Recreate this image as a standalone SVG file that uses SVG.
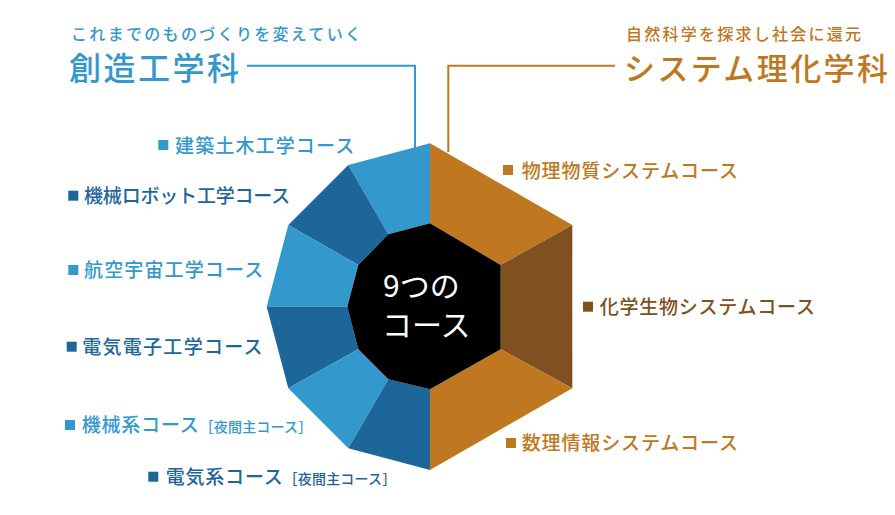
<svg xmlns="http://www.w3.org/2000/svg" width="895" height="515" viewBox="0 0 895 515">
<style>
text{font-family:"Noto Sans CJK JP","Noto Sans",sans-serif;}
.lb{fill:#3399cc}.db{fill:#1d6699}.or{fill:#c07820}.br{fill:#7f5020}
.lbl{font-size:19px;letter-spacing:0.8px;font-weight:500}
.sm{font-size:14px;letter-spacing:0.2px}
.conn{fill:none;stroke-width:2}
</style>
<rect width="895" height="515" fill="#ffffff"/>
<g id="connectors">
<polyline class="conn" stroke="#3399cc" points="247,65.7 415,65.7 415,148"/>
<polyline class="conn" stroke="#c07820" points="615,65.7 448.3,65.7 448.3,152"/>
</g>
<g id="hex">
<polygon class="lb" points="430,143.3 348.3,165 388.3,234.3 430,223.3"/>
<polygon class="db" points="348.3,165 288.3,225 358.3,265 388.3,234.3"/>
<polygon class="lb" points="288.3,225 266.7,306.7 347.3,306.7 358.3,265"/>
<polygon class="db" points="266.7,306.7 288.3,388.3 358.3,349.3 347.3,306.7"/>
<polygon class="lb" points="288.3,388.3 348.3,448.3 388.3,379.3 358.3,349.3"/>
<polygon class="db" points="348.3,448.3 430,470 430,389.3 388.3,379.3"/>
<polygon class="or" points="430,143.3 572.3,225 500.7,265 430,223.3"/>
<polygon class="br" points="572.3,225 572.3,388.3 500.7,349.3 500.7,265"/>
<polygon class="or" points="572.3,388.3 430,470 430,389.3 500.7,349.3"/>
<polygon fill="#000000" points="430,223.3 500.7,265 500.7,349.3 430,389.3 388.3,379.3 358.3,349.3 347.3,306.7 358.3,265 388.3,234.3"/>
</g>
<g id="center">
<text fill="#ffffff" font-size="30"><tspan x="383" y="297">9つの</tspan><tspan x="382" y="336">コース</tspan></text>
</g>
<g id="dept-sozo">
<text class="lb" x="71" y="40" font-size="16" font-weight="500" textLength="290">これまでのものづくりを変えていく</text>
<text class="lb" x="69" y="80" font-size="32" font-weight="500" textLength="170">創造工学科</text>
</g>
<g id="dept-system">
<text class="or" x="626" y="40" font-size="16" font-weight="500" textLength="235">自然科学を探求し社会に還元</text>
<text class="or" x="624" y="80" font-size="31" font-weight="500" textLength="264">システム理化学科</text>
</g>
<g id="c1"><rect class="lb" x="158.3" y="140" width="10" height="10"/><text class="lb lbl" x="175" y="152.5" textLength="180">建築土木工学コース</text></g>
<g id="c2"><rect class="db" x="68.3" y="190.7" width="10" height="10"/><text class="db lbl" x="84" y="202.5" textLength="207">機械ロボット工学コース</text></g>
<g id="c3"><rect class="lb" x="68.3" y="265" width="10" height="10"/><text class="lb lbl" x="84" y="277" textLength="180">航空宇宙工学コース</text></g>
<g id="c4"><rect class="db" x="66.7" y="341.7" width="10" height="10"/><text class="db lbl" x="82.3" y="353.5" textLength="181">電気電子工学コース</text></g>
<g id="c5"><rect class="lb" x="65" y="420" width="10" height="10"/><text class="lb lbl" x="81.7" y="432">機械系コース<tspan class="sm">［夜間主コース］</tspan></text></g>
<g id="c6"><rect class="db" x="148.3" y="471.7" width="10" height="10"/><text class="db lbl" x="165.7" y="483.5">電気系コース<tspan class="sm">［夜間主コース］</tspan></text></g>
<g id="c7"><rect class="or" x="503" y="165" width="10" height="10"/><text class="or lbl" x="521.7" y="177.5" textLength="217">物理物質システムコース</text></g>
<g id="c8"><rect class="br" x="583" y="301.7" width="10" height="10"/><text class="br lbl" x="599.7" y="313.5" textLength="216">化学生物システムコース</text></g>
<g id="c9"><rect class="or" x="506" y="438" width="10" height="10"/><text class="or lbl" x="521.7" y="450" textLength="217">数理情報システムコース</text></g>
</svg>
